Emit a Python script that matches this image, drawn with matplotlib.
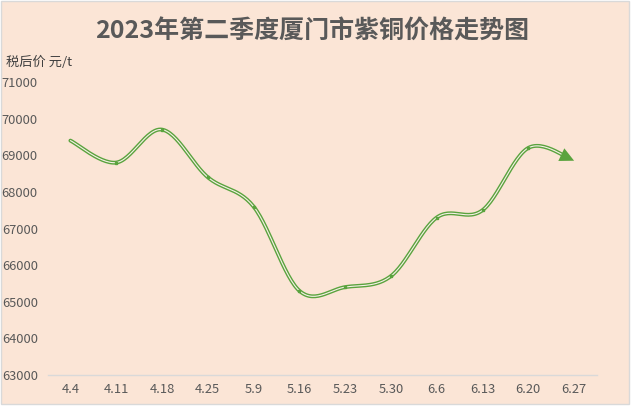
import numpy as np
import matplotlib
matplotlib.use('Agg')
import matplotlib.pyplot as plt
from matplotlib.patches import Rectangle

plt.rcParams['font.family'] = ['Noto Sans CJK SC', 'DejaVu Sans']

# 資料
dates = ['4.4', '4.11', '4.18', '4.25', '5.9', '5.16', '5.23', '5.30', '6.6', '6.13', '6.20', '6.27']
prices = [69400, 68800, 69700, 68400, 67600, 65300, 65400, 65700, 67300, 67500, 69200, 68850]
yticks = [63000, 64000, 65000, 66000, 67000, 68000, 69000, 70000, 71000]

bg = '#fbe5d6'
green = '#5aa33e'
W, H = 631, 413


def smooth(xs, ys, n=30):
    # Catmull-Rom 平滑 (類似 Excel 平滑線)
    xs = np.asarray(xs, float)
    ys = np.asarray(ys, float)
    px = np.concatenate([[xs[0]], xs, [xs[-1]]])
    py = np.concatenate([[ys[0]], ys, [ys[-1]]])
    outx, outy = [], []
    t = np.linspace(0, 1, n)
    for i in range(1, len(px) - 2):
        x0, x1, x2, x3 = px[i - 1:i + 3]
        y0, y1, y2, y3 = py[i - 1:i + 3]
        c1x, c1y = x1 + (x2 - x0) / 6, y1 + (y2 - y0) / 6
        c2x, c2y = x2 - (x3 - x1) / 6, y2 - (y3 - y1) / 6
        bx = (1 - t) ** 3 * x1 + 3 * (1 - t) ** 2 * t * c1x + 3 * (1 - t) * t ** 2 * c2x + t ** 3 * x2
        by = (1 - t) ** 3 * y1 + 3 * (1 - t) ** 2 * t * c1y + 3 * (1 - t) * t ** 2 * c2y + t ** 3 * y2
        outx.extend(bx[:-1])
        outy.extend(by[:-1])
    outx.append(xs[-1])
    outy.append(ys[-1])
    return np.array(outx), np.array(outy)


fig = plt.figure(figsize=(W / 100, H / 100), dpi=100)
fig.patch.set_facecolor('white')
fig.add_artist(Rectangle((0.5 / W, 1 - 404 / H), 628.5 / W, 403.5 / H, transform=fig.transFigure,
                         facecolor=bg, edgecolor='#d9d9d9', linewidth=1, zorder=-5))

ax = fig.add_axes([47.5 / W, 1 - 375 / H, 549.5 / W, 293 / H])
ax.set_facecolor('none')
ax.set_zorder(2)

x = np.arange(len(dates))
sx, sy = smooth(x, prices)

# 去掉最後一小段讓箭頭接上
cut = len(sx) - 6
ax.plot(sx[:cut], sy[:cut], color=green, lw=2.8, solid_capstyle='round', zorder=2)
ax.plot(sx[:cut], sy[:cut], color='#f8f1e8', lw=0.8, solid_capstyle='round', zorder=3)
ax.plot(x[1:-1], prices[1:-1], 's', color=green, ms=2, zorder=4)
ax.annotate('', xy=(sx[-1], sy[-1]), xytext=(sx[cut - 1], sy[cut - 1]),
            arrowprops=dict(arrowstyle='-|>,head_length=0.85,head_width=0.42', color=green,
                            lw=0, shrinkA=0, shrinkB=0, mutation_scale=12), zorder=5)

ax.set_xlim(-0.5, len(dates) - 0.5)
ax.set_ylim(63000, 71000)
ax.set_xticks(x)
ax.set_xticklabels(dates)
ax.set_yticks(yticks)
ax.set_yticklabels([str(v) for v in yticks])
ax.tick_params(axis='both', length=0, labelsize=9.3, colors='#595959')
ax.tick_params(axis='y', pad=7)
ax.tick_params(axis='x', pad=6)
for s in ['top', 'right', 'left']:
    ax.spines[s].set_visible(False)
ax.spines['bottom'].set_color('#d9d9d9')
ax.spines['bottom'].set_linewidth(1)

fig.text(312 / W, 1 - 32 / H, '2023年第二季度厦门市紫铜价格走势图', ha='center', va='center',
         fontsize=18, fontweight='bold', color='#595959')
fig.text(6 / W, 1 - 62 / H, '税后价 元/t', ha='left', va='center', fontsize=9.5, color='#404040')

fig.savefig('out.png', dpi=100, facecolor=fig.get_facecolor())
